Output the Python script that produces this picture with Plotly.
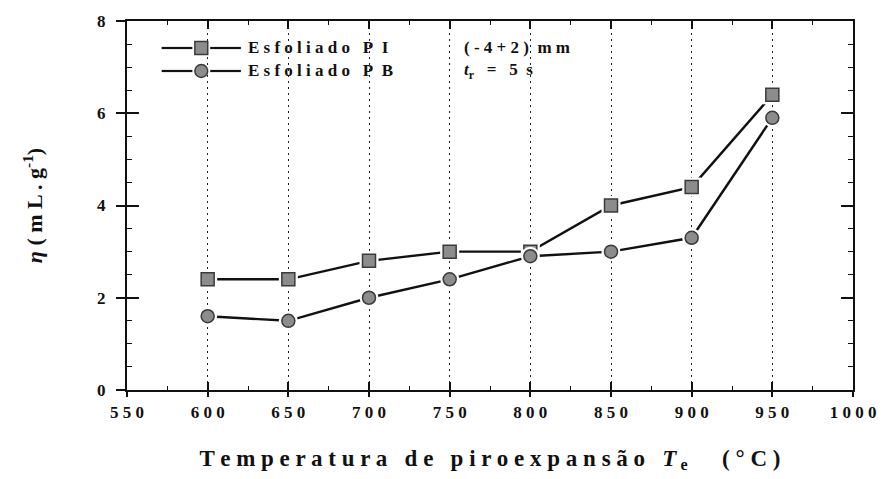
import plotly.graph_objects as go

# Pyroexpansion temperature (°C) and expansion index η (mL/g)
temperature = [600, 650, 700, 750, 800, 850, 900, 950]
eta_pi = [2.4, 2.4, 2.8, 3.0, 3.0, 4.0, 4.4, 6.4]
eta_pb = [1.6, 1.5, 2.0, 2.4, 2.9, 3.0, 3.3, 5.9]
x_ticks = [550, 600, 650, 700, 750, 800, 850, 900, 950, 1000]
y_ticks = [0, 2, 4, 6, 8]

SERIF = "Liberation Serif"
EN = "\u2002"  # en space, kept as-is by the SVG renderer


def spaced(text, word_gap=EN, letter_gap=" "):
    """Spread the letters of each word apart, like the typeset labels."""
    return word_gap.join(letter_gap.join(word) for word in text.split(" "))


fig = go.Figure()

marker_gray = "#8c8c8c"
edge = "#3a3a3a"

for ys, symbol, name in [(eta_pi, "square", "Esfoliado PI"), (eta_pb, "circle", "Esfoliado PB")]:
    fig.add_trace(go.Scatter(
        x=temperature, y=ys, mode="lines", name=name,
        line=dict(color="#111111", width=2.4), showlegend=False, hoverinfo="skip"))
    # white halo gives the small gap between line ends and markers
    fig.add_trace(go.Scatter(
        x=temperature, y=ys, mode="markers", showlegend=False, hoverinfo="skip",
        marker=dict(symbol=symbol, size=19, color="white", line=dict(width=0))))
    fig.add_trace(go.Scatter(
        x=temperature, y=ys, mode="markers", name=name, showlegend=False,
        marker=dict(symbol=symbol, size=13, color=marker_gray, line=dict(color=edge, width=1.5))))

# plot area in pixels: x 127..860, y 21..390
L, R, T, B = 127, 28, 21, 89
W, H = 888, 479
pw, ph = W - L - R, H - T - B


def px(xp):
    return (xp - L) / pw


def py(yp):
    return (H - B - yp) / ph


shapes = []
annotations = []
legend_rows = [(48, "square", "Esfoliado PI"), (71, "circle", "Esfoliado PB")]
for yrow, symbol, label in legend_rows:
    yc = py(yrow)
    shapes.append(dict(type="line", xref="paper", yref="paper",
                       x0=px(162), x1=px(193), y0=yc, y1=yc,
                       line=dict(color="#111111", width=2.2)))
    shapes.append(dict(type="line", xref="paper", yref="paper",
                       x0=px(211), x1=px(242), y0=yc, y1=yc,
                       line=dict(color="#111111", width=2.2)))
    shapes.append(dict(type="rect" if symbol == "square" else "circle",
                       xref="paper", yref="paper",
                       x0=px(195.5), x1=px(208.5), y0=py(yrow + 6.5), y1=py(yrow - 6.5),
                       fillcolor=marker_gray, line=dict(color=edge, width=1.5)))
    word, code = label.split(" ")
    annotations.append(dict(xref="paper", yref="paper", x=px(247), y=yc,
                            xanchor="left", yanchor="middle", showarrow=False,
                            text="<b>" + spaced(word) + EN + " " + spaced(code, letter_gap=EN) + "</b>",
                            font=dict(family=SERIF, size=17, color="#111111")))

annotations.append(dict(xref="paper", yref="paper", x=px(465), y=py(48),
                        xanchor="left", yanchor="middle", showarrow=False,
                        text="<b>( - 4 + 2 )" + EN + "m m</b>",
                        font=dict(family=SERIF, size=17, color="#111111")))
annotations.append(dict(xref="paper", yref="paper", x=px(465), y=py(71),
                        xanchor="left", yanchor="middle", showarrow=False,
                        text="<b><i>t</i><sub>r</sub>" + EN + " = " + EN + "5" + EN + "s</b>",
                        font=dict(family=SERIF, size=17, color="#111111")))

fig.update_layout(
    width=W, height=H,
    margin=dict(l=L, r=R, t=T, b=B),
    paper_bgcolor="white", plot_bgcolor="white",
    font=dict(family=SERIF, color="#111111"),
    shapes=shapes, annotations=annotations,
    xaxis=dict(
        range=[550, 1000], tickvals=x_ticks,
        ticktext=["<b>" + spaced(str(v)) + "</b>" for v in x_ticks],
        tickfont=dict(family=SERIF, size=17, color="#111111"),
        ticks="inside", ticklen=8, tickwidth=1.6, tickcolor="#111111",
        ticklabelstandoff=6,
        minor=dict(dtick=25, ticks="inside", ticklen=4, tickwidth=1.2, tickcolor="#111111"),
        showline=True, linecolor="#111111", linewidth=2, mirror="allticks",
        showgrid=True, gridcolor="#222222", gridwidth=1.4, griddash="2px,4px",
        zeroline=False,
        title=dict(
            text="<b>" + spaced("Temperatura de piroexpansão", word_gap=EN + " ")
                 + EN + " <i>T</i><sub> e</sub>" + EN * 3 + "( ° C )</b>",
            font=dict(family=SERIF, size=23, color="#111111"), standoff=28),
    ),
    yaxis=dict(
        range=[0, 8], tickvals=y_ticks,
        ticktext=["<b>" + str(v) + "</b>" for v in y_ticks],
        tickfont=dict(family=SERIF, size=17, color="#111111"),
        ticks="inside", ticklen=12, tickwidth=1.6, tickcolor="#111111",
        ticklabelstandoff=16,
        minor=dict(dtick=0.5, ticks="inside", ticklen=5, tickwidth=1.2, tickcolor="#111111"),
        showline=True, linecolor="#111111", linewidth=2, mirror="allticks",
        showgrid=False, zeroline=False,
        title=dict(text="<b><i>η</i> ( m L . g<sup>-1</sup>)</b>",
                   font=dict(family=SERIF, size=22, color="#111111"), standoff=48),
    ),
    # outward halves of the major ticks on the left and bottom
    xaxis2=dict(overlaying="x", side="bottom", range=[550, 1000], tickvals=x_ticks,
                showticklabels=False, ticks="outside", ticklen=6, tickwidth=1.6,
                tickcolor="#111111", showgrid=False, zeroline=False, showline=False),
    yaxis2=dict(overlaying="y", side="left", range=[0, 8], tickvals=y_ticks,
                showticklabels=False, ticks="outside", ticklen=10, tickwidth=1.6,
                tickcolor="#111111", showgrid=False, zeroline=False, showline=False),
)

# invisible trace so the overlay axes are drawn
fig.add_trace(go.Scatter(x=[None], y=[None], xaxis="x2", yaxis="y2", showlegend=False,
                         hoverinfo="skip"))

fig.write_html("out.html")
